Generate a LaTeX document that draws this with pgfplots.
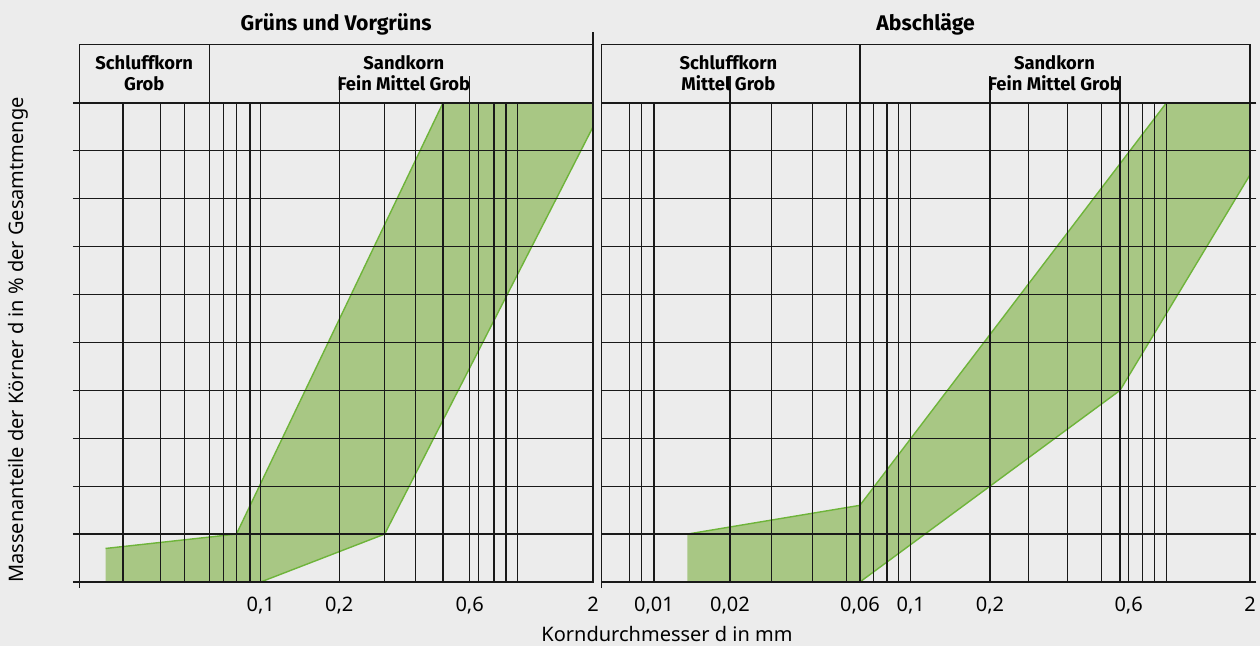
\documentclass[border=0pt]{standalone}
\usepackage{pgfplots}
\pgfplotsset{compat=1.18}
\usepackage{fontspec}
\setmainfont{Noto Sans}
\newfontfamily\headfont{Fira Sans}

\definecolor{bg}{RGB}{236,236,236}
\definecolor{bandfill}{RGB}{168,199,132}
\definecolor{bandline}{RGB}{110,180,58}
\definecolor{gridc}{RGB}{25,25,25}

\tikzset{
  hdr/.style={draw=gridc, line width=0.6pt},
  hfont/.style={font=\headfont\bfseries\fontsize{9.2}{11}\selectfont},
  tfont/.style={font=\headfont\bfseries\fontsize{10.6}{12}\selectfont},
}

\begin{document}
\begin{tikzpicture}[x=1pt,y=1pt]
\useasboundingbox[fill=bg] (0,0) rectangle (630,323);

% ---------------- Grüns und Vorgrüns ----------------
\begin{axis}[
  scale only axis, height=239.5pt, width=256.85pt,
  at={(39.65pt,32pt)}, anchor=south west,
  xmode=log, xmin=0.02, xmax=2, ymin=0, ymax=100,
  axis on top, clip=false,
  grid=major,
  major grid style={draw=gridc, line width=0.6pt},
  axis line style={draw=gridc, line width=0.6pt},
  ytick={0,10,...,100}, yticklabels={},
  tick align=outside, major tick length=3.2pt,
  ytick style={draw=gridc, line width=0.6pt},
  xtick style={draw=none},
  ytick pos=left,
  xticklabel style={font=\fontsize{10}{12}\selectfont, yshift=-1pt},
  xtick={0.0296,0.0414,0.0514,0.0642,0.0727,0.0818,0.0924,0.1017,0.2057,0.309,0.408,0.521,0.662,0.715,0.824,0.917,1.02,2},
  xticklabels={{},{},{},{},{},{},{},{0,1},{0,2},{},{},{},{0,6},{},{},{},{},{2}},
]
\addplot[fill=bandfill, draw=none, forget plot] coordinates {(0.0253,0) (0.0253,7) (0.0818,10) (0.521,100) (2,100) (2,95) (0.309,10) (0.1017,0)} -- cycle;
\addplot[bandline, line width=0.7pt, forget plot] coordinates {(0.0253,7) (0.0818,10) (0.521,100) (2,100)};
\addplot[bandline, line width=0.7pt, forget plot] coordinates {(0.1017,0) (0.309,10) (2,95)};

% header box with grain classes
\draw[hdr] (axis cs:0.02,100) -- (axis cs:0.02,112.2) -- (axis cs:2,112.2);
\draw[hdr] (axis cs:2,0) -- (axis cs:2,114.8);
\draw[hdr] (axis cs:0.0642,100) -- (axis cs:0.0642,112.2);
\draw[hdr] (axis cs:0.2057,100) -- (axis cs:0.2057,105.6);
\draw[hdr] (axis cs:0.662,100) -- (axis cs:0.662,105.6);
\draw[hdr] (axis cs:0.02,0) -- (axis cs:0.02,-1.3);
\node[hfont] at (axis cs:0.0358,108.5) {Schluffkorn};
\node[hfont] at (axis cs:0.0358,104.1) {Grob};
\node[hfont] at (axis cs:0.367,108.5) {Sandkorn};
\node[hfont] at (axis cs:0.367,104.1) {Fein Mittel Grob};
\node[tfont] at (axis cs:0.2,116.5) {Grüns und Vorgrüns};
\end{axis}

% ---------------- Abschläge ----------------
\begin{axis}[
  scale only axis, height=239.5pt, width=324.35pt,
  at={(300.65pt,32pt)}, anchor=south west,
  xmode=log, xmin=0.0064, xmax=2, ymin=0, ymax=100,
  axis on top, clip=false,
  grid=major,
  major grid style={draw=gridc, line width=0.6pt},
  axis line style={draw=gridc, line width=0.6pt},
  ytick={0,10,...,100}, yticklabels={},
  tick align=outside, major tick length=3.2pt,
  ytick style={draw=gridc, line width=0.6pt},
  xtick style={draw=none},
  ytick pos=right,
  xticklabel style={font=\fontsize{10}{12}\selectfont, yshift=-1pt},
  xtick={0.00823,0.00915,0.0102,0.02,0.0289,0.0415,0.056,0.0632,0.0714,0.0803,0.0891,0.0991,0.2,0.2817,0.398,0.538,0.6325,0.683,0.770,0.857,0.953,2},
  xticklabels={{},{},{0,01},{0,02},{},{},{},{0,06},{},{},{},{0,1},{0,2},{},{},{},{},{0,6},{},{},{},{2}},
]
\addplot[fill=bandfill, draw=none, forget plot] coordinates {(0.0137,0) (0.0137,10) (0.0632,16) (0.953,100) (2,100) (2,85) (0.6325,40) (0.0632,0)} -- cycle;
\addplot[bandline, line width=0.7pt, forget plot] coordinates {(0.0137,10) (0.0632,16) (0.953,100) (2,100)};
\addplot[bandline, line width=0.7pt, forget plot] coordinates {(0.0137,0) (0.0632,0) (0.6325,40) (2,85)};

\draw[hdr] (axis cs:0.0064,-1.3) -- (axis cs:0.0064,112.2) -- (axis cs:2,112.2) -- (axis cs:2,100);
\draw[hdr] (axis cs:0.0632,100) -- (axis cs:0.0632,112.2);
\draw[hdr] (axis cs:0.02,100) -- (axis cs:0.02,105.6);
\draw[hdr] (axis cs:0.2,100) -- (axis cs:0.2,105.6);
\draw[hdr] (axis cs:0.6325,100) -- (axis cs:0.6325,105.6);
\node[hfont] at (axis cs:0.01973,108.5) {Schluffkorn};
\node[hfont] at (axis cs:0.01973,104.1) {Mittel Grob};
\node[hfont] at (axis cs:0.354,108.5) {Sandkorn};
\node[hfont] at (axis cs:0.354,104.1) {Fein Mittel Grob};
\node[tfont] at (axis cs:0.1131,116.5) {Abschläge};
\end{axis}

% axis titles shared by both panels
\node[rotate=90, font=\fontsize{10}{12}\selectfont] at (9,153) {Massenanteile der Körner d in \% der Gesamtmenge};
\node[font=\fontsize{10}{12}\selectfont] at (333.5,6) {Korndurchmesser d in mm};
\end{tikzpicture}
\end{document}
